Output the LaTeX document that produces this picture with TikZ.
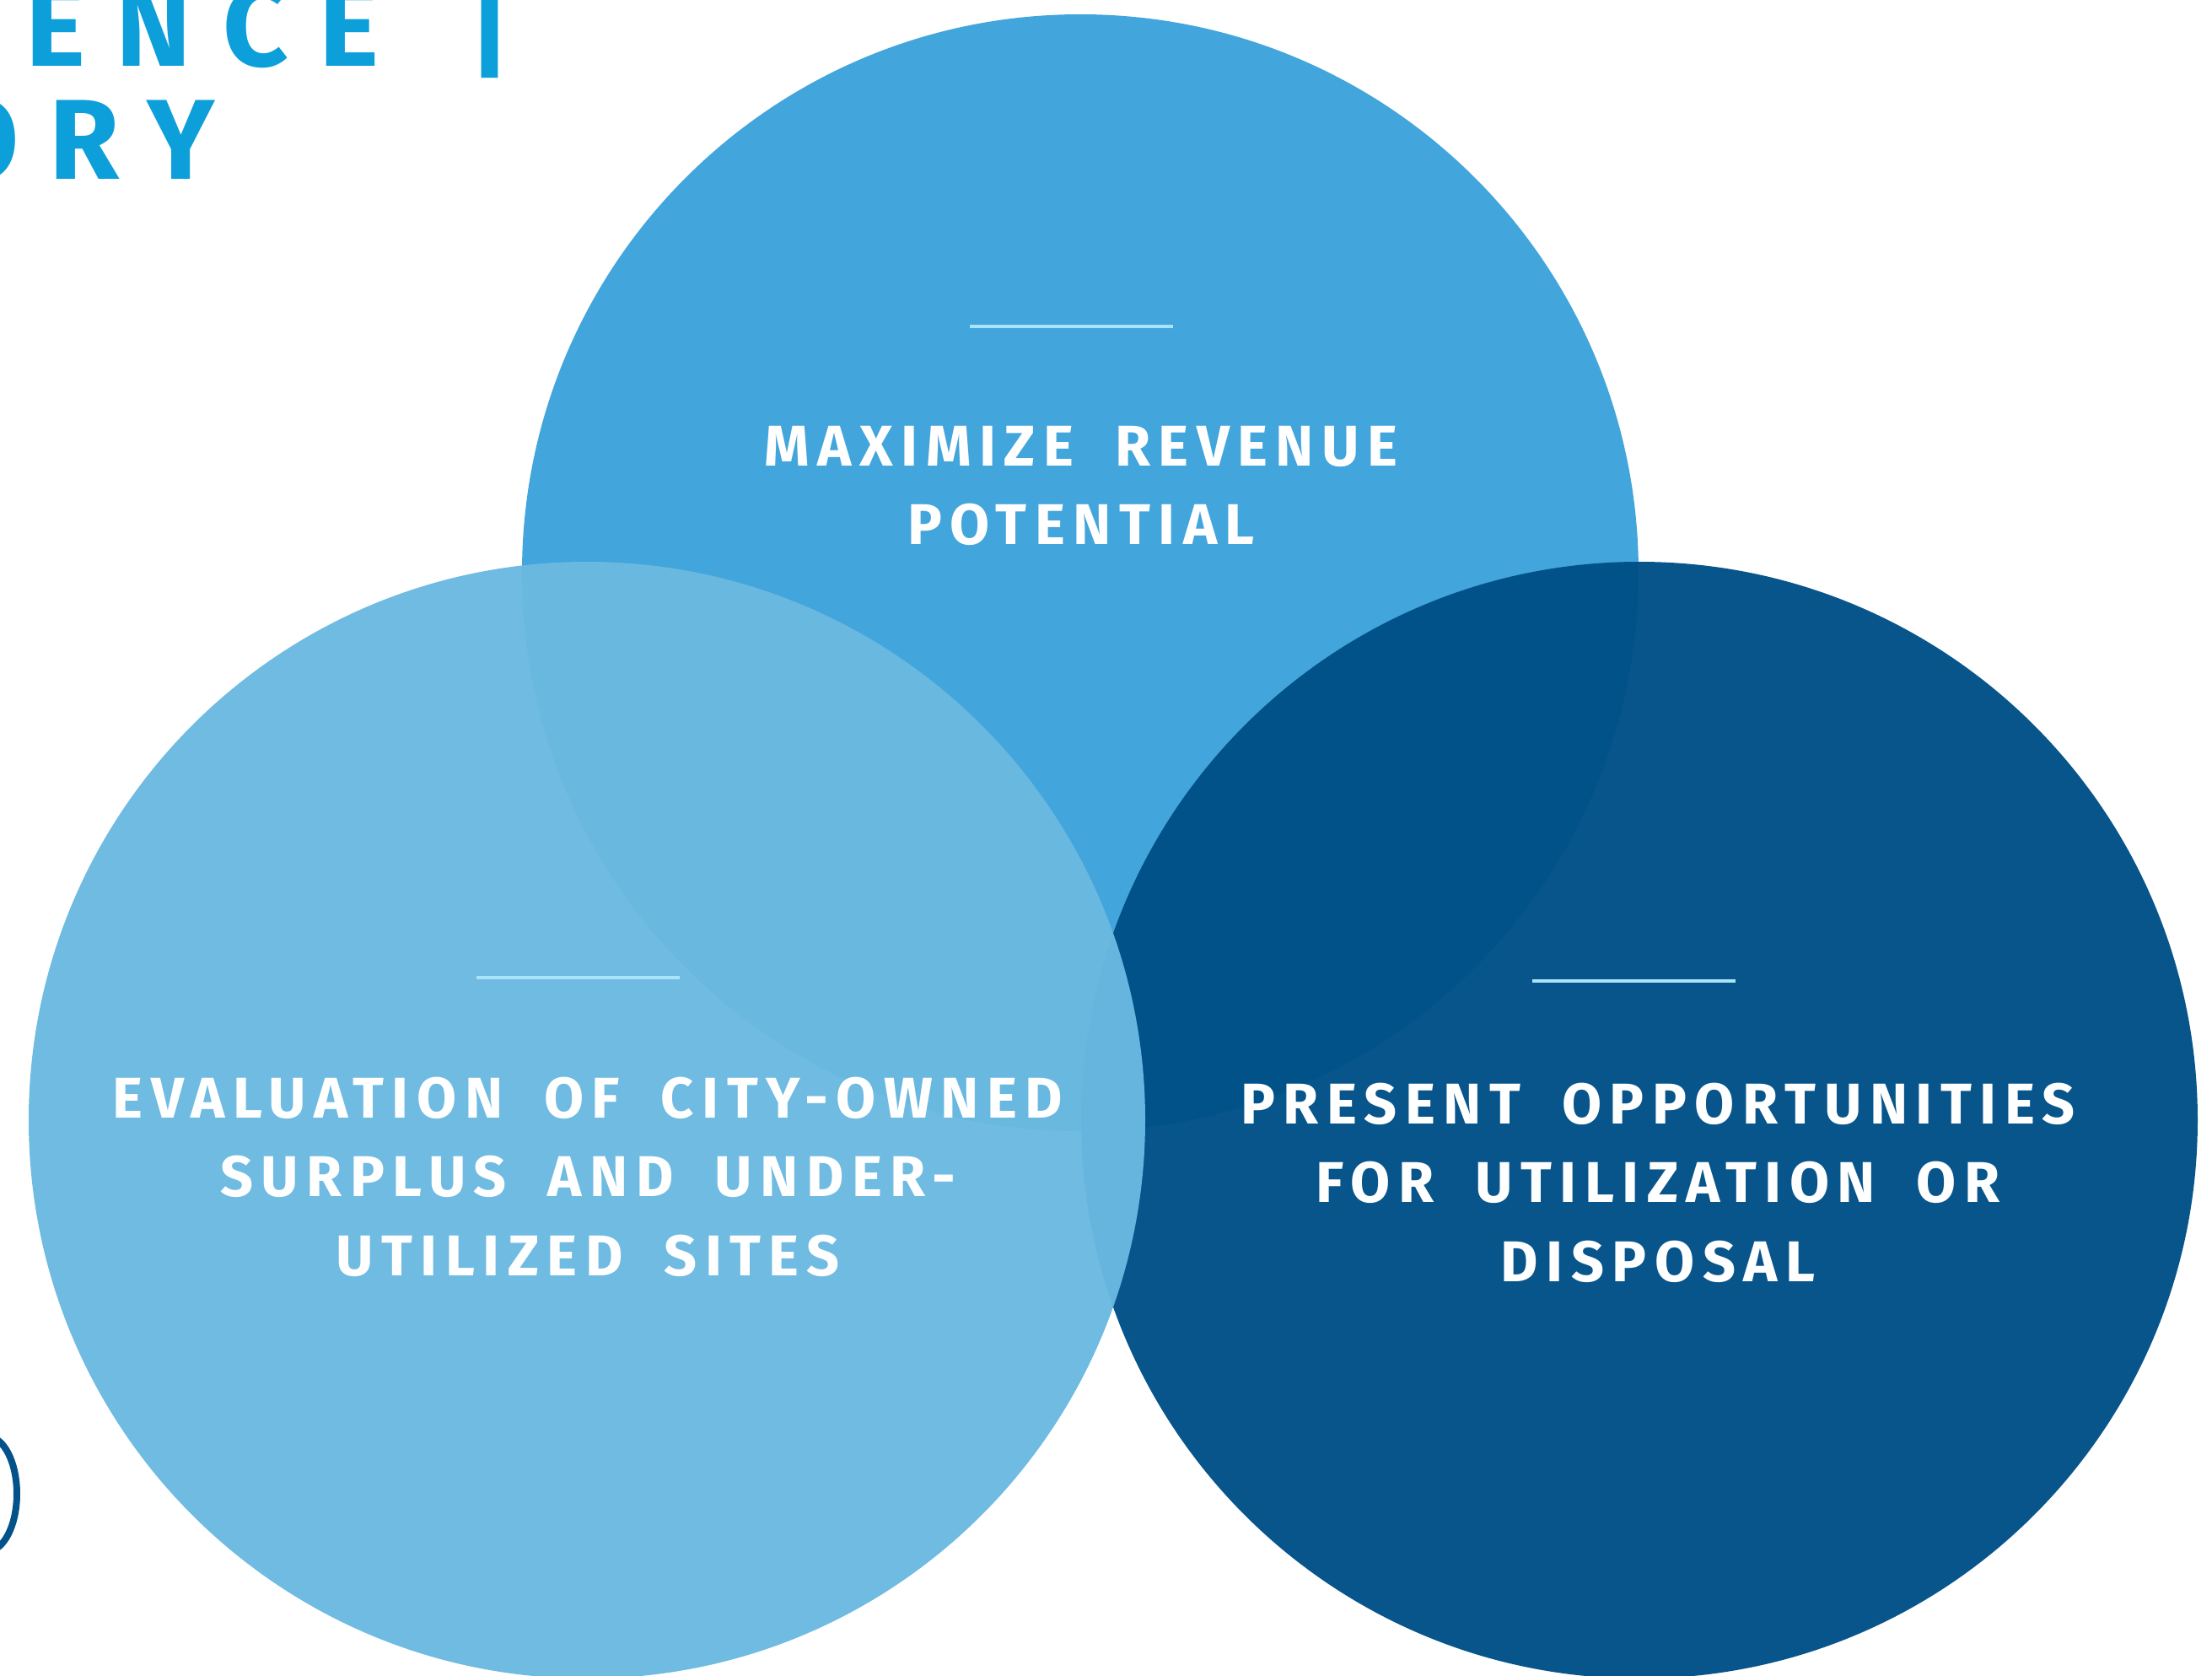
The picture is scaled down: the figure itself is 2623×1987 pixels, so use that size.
\documentclass[tikz,border=0pt]{standalone}
\usepackage{fontspec}
\setmainfont{Fira Sans}
\newfontfamily\goalfont{Fira Sans}[LetterSpace=14, WordSpace=1.9]
\newfontfamily\titlefont{Fira Sans}[LetterSpace=27]
\usetikzlibrary{positioning}
\definecolor{circletop}{RGB}{66,165,220}
\definecolor{circleleft}{RGB}{106,185,225}
\definecolor{circleright}{RGB}{0,80,136}
\definecolor{rulecyan}{RGB}{170,228,250}
\definecolor{titleblue}{RGB}{13,159,218}
\definecolor{outlineblue}{RGB}{3,83,138}

\tikzset{
  venn/.style={fill opacity=0.97},
  goalrule/.style={draw=rulecyan, line width=0.35mm},
  goaltext/.style={text=white, align=center, inner sep=0pt,
    font=\goalfont\bfseries\fontsize{19.4}{26.6}\selectfont},
  titletext/.style={text=titleblue, inner sep=0pt,
    font=\titlefont\bfseries\fontsize{38.4}{44}\selectfont}
}

\begin{document}
\begin{tikzpicture}[x=0.1mm, y=-0.1mm]
    \useasboundingbox (0,0) rectangle (2623,1987);

    % Circle centres
    \coordinate (revenue) at (1281,679);
    \coordinate (evaluation) at (696,1328);
    \coordinate (present) at (1944,1328);

    % Circles, back to front
    \fill[circletop] (revenue) circle (662);
    \fill[circleright, venn] (present) circle (662);
    \fill[circleleft, venn] (evaluation) circle (662);

    % Short rules over the goals
    \draw[goalrule] (1150,387) -- (1391,387);
    \draw[goalrule] (565,1159) -- (806,1159);
    \draw[goalrule] (1817,1163) -- (2058,1163);

    % Goals
    \node[goaltext] (revenuetext) at (1282,576) {MAXIMIZE REVENUE\\POTENTIAL};
    \node[goaltext] (evaluationtext) at (697,1395) {EVALUATION OF CITY-OWNED\\SURPLUS AND UNDER-\\UTILIZED SITES};
    \node[goaltext] (presenttext) at (1966,1402) {PRESENT OPPORTUNITIES\\FOR UTILIZATION OR\\DISPOSAL};

    % Heading, cut at the page edge
    \node[titletext, anchor=base west] (titletop) at (30,79) {ENCE\hspace{10.7mm}|};
    \node[titletext, anchor=base east] (titlebottom) at (255,212) {ORY};

    % Outlined figure at the left edge
    \draw[outlineblue, line width=0.8mm] (-15,1771) ellipse (35 and 68);
\end{tikzpicture}
\end{document}
